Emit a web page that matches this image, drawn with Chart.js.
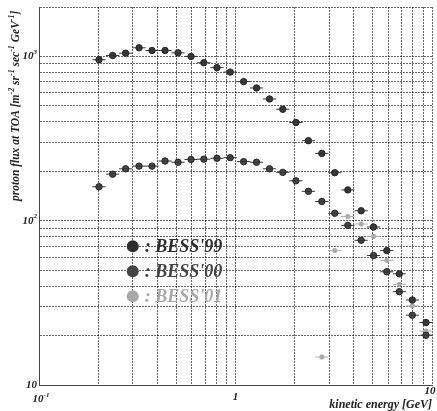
<!DOCTYPE html>
<html>
<head>
<meta charset="utf-8">
<script src="https://cdn.jsdelivr.net/npm/chart.js@4"></script>
<style>
  html, body { margin: 0; padding: 0; background: #fff; }
  #wrap { width: 437px; height: 411px; }
</style>
</head>
<body>
<div id="wrap"><canvas id="fluxChart" width="437" height="411"></canvas></div>
<script>
// kinetic energy bins [GeV]
const energies = [0.202, 0.237, 0.276, 0.323, 0.376, 0.438, 0.510, 0.594, 0.690, 0.805,
                  0.940, 1.10, 1.28, 1.49, 1.74, 2.03, 2.35, 2.75, 3.20, 3.73,
                  4.36, 5.04, 5.89, 6.82, 7.94, 9.32];

// proton flux at TOA
const bess99 = [955, 1014, 1047, 1129, 1087, 1087, 1052, 1000, 916, 855,
                803, 703, 643, 551, 477, 396, 307, 257, 196, 154,
                115, 91.6, 65.8, 47.5, 32.9, 24.0];
const bess00 = [161, 192, 207, 215, 215, 231, 227, 236, 237, 240,
                242, 229, 227, 207, 197, 175, 151, 131, 111, 93.7,
                76.0, 61.4, 48.9, 37.0, 26.6, 20.1];
const bess01 = [null, null, null, null, null, null, null, null, null, null,
                null, null, null, null, null, null, null, 14.8, 65.8, 106,
                95.5, 80.3, 57.3, 41.0, 30.3, 21.3];

const seriesNames = [": BESS'99", ": BESS'00", ": BESS'01"];
const seriesColors = ['#2e2e2e', '#444444', '#a8a8a8'];

const xTicks = [0.1, 0.2, 0.3, 0.4, 0.5, 0.6, 0.7, 0.8, 0.9, 1, 2, 3, 4, 5, 6, 7, 8, 9, 10];
const yTicks = [10, 20, 30, 40, 50, 60, 70, 80, 90, 100, 200, 300, 400, 500, 600, 700, 800, 900, 1000, 2000];
const xTickLabels = { 0.1: ['10', '-1'], 1: ['1', ''], 10: ['10', ''] };
const yTickLabels = { 10: ['10', ''], 100: ['10', '2'], 1000: ['10', '3'] };

const binHalf = 1.08;
const serif = '"Liberation Serif", "DejaVu Serif", serif';

function toPoints(vals) {
    return energies.map((e, i) => ({ x: e, y: vals[i] }));
}

// draws a run of [text, isSuperscript] parts
function drawParts(ctx, parts, x, y, size, align, color) {
    const big = `italic bold ${size}px ${serif}`;
    const small = `italic bold ${Math.round(size * 0.68)}px ${serif}`;
    let w = 0;
    parts.forEach(([t, s]) => { ctx.font = s ? small : big; w += ctx.measureText(t).width; });
    let cx = align === 'right' ? x - w : align === 'center' ? x - w / 2 : x;
    ctx.fillStyle = color;
    ctx.textBaseline = 'middle';
    ctx.textAlign = 'left';
    parts.forEach(([t, s]) => {
        ctx.font = s ? small : big;
        ctx.fillText(t, cx, s ? y - size * 0.38 : y);
        cx += ctx.measureText(t).width;
    });
}

const decorations = {
    id: 'decorations',
    afterDatasetsDraw(chart) {
        const ctx = chart.ctx;
        const xs = chart.scales.x, ys = chart.scales.y;
        const area = chart.chartArea;
        ctx.save();

        // horizontal error bars
        chart.data.datasets.forEach((ds, di) => {
            ctx.strokeStyle = di === 2 ? '#b0b0b0' : '#333';
            ctx.lineWidth = 1;
            ds.data.forEach(p => {
                if (p.y == null) return;
                const py = ys.getPixelForValue(p.y);
                ctx.beginPath();
                ctx.moveTo(xs.getPixelForValue(p.x / binHalf), py);
                ctx.lineTo(xs.getPixelForValue(p.x * binHalf), py);
                ctx.stroke();
            });
        });

        // tick labels
        Object.entries(yTickLabels).forEach(([v, [b, s]]) => {
            const py = ys.getPixelForValue(+v);
            drawParts(ctx, [[b, false], [s, true]], area.left - 2, py, 11, 'right', '#222');
        });
        Object.entries(xTickLabels).forEach(([v, [b, s]]) => {
            const px = xs.getPixelForValue(+v);
            let dx = 0, dy = 12;
            if (+v === 0.1) { dx = 2; dy = 14; }
            if (+v === 10) { dx = -2; dy = 6; }
            drawParts(ctx, [[b, false], [s, true]], px + dx, area.bottom + dy, 11, 'center', '#222');
        });

        // axis titles
        drawParts(ctx, [['kinetic energy [GeV]', false]], area.right, area.bottom + 20, 12, 'right', '#222');
        ctx.save();
        ctx.translate(16, (area.top + ys.getPixelForValue(100)) / 2 - 8);
        ctx.rotate(-Math.PI / 2);
        drawParts(ctx, [['proton flux at TOA [m', false], ['-2', true], [' sr', false], ['-1', true],
                        [' sec', false], ['-1', true], [' GeV', false], ['-1', true], [']', false]],
                  0, 0, 11.5, 'center', '#222');
        ctx.restore();

        // in-plot legend
        seriesNames.forEach((name, i) => {
            const lx = xs.getPixelForValue(0.3);
            const ly = ys.getPixelForValue(72) + 2 + i * 25;
            ctx.beginPath();
            ctx.arc(lx, ly, 6, 0, Math.PI * 2);
            ctx.fillStyle = seriesColors[i];
            ctx.fill();
            drawParts(ctx, [[name, false]], lx + 12, ly + 1, 18, 'left', seriesColors[i]);
        });

        ctx.restore();
    }
};

const gridStyle = {
    color: 'rgba(0,0,0,0.6)',
    lineWidth: 1,
    drawTicks: false
};

new Chart(document.getElementById('fluxChart'), {
    type: 'scatter',
    data: {
        datasets: [
            { label: 'BESS99', data: toPoints(bess99), backgroundColor: '#3a3a3a', borderColor: '#222', borderWidth: 1, pointRadius: 3.2 },
            { label: 'BESS00', data: toPoints(bess00), backgroundColor: '#484848', borderColor: '#222', borderWidth: 1, pointRadius: 3.2 },
            { label: 'BESS01', data: toPoints(bess01), backgroundColor: '#a8a8a8', borderColor: '#999', borderWidth: 0.5, pointRadius: 2.3 }
        ]
    },
    options: {
        responsive: false,
        animation: false,
        layout: { padding: { top: 7, right: 5, left: 0, bottom: 0 } },
        plugins: { legend: { display: false }, tooltip: { enabled: false } },
        scales: {
            x: {
                type: 'logarithmic',
                min: 0.1, max: 10,
                afterBuildTicks: s => { s.ticks = xTicks.map(v => ({ value: v })); },
                afterFit: s => { s.height = 26; },
                ticks: { display: false },
                grid: { ...gridStyle },
                border: { display: true, color: '#444', dash: [2, 1] }
            },
            y: {
                type: 'logarithmic',
                min: 10, max: 2000,
                afterBuildTicks: s => { s.ticks = yTicks.map(v => ({ value: v })); },
                afterFit: s => { s.width = 39; },
                ticks: { display: false },
                grid: { ...gridStyle },
                border: { display: true, color: '#444', dash: [2, 1] }
            }
        }
    },
    plugins: [decorations]
});
</script>
</body>
</html>
